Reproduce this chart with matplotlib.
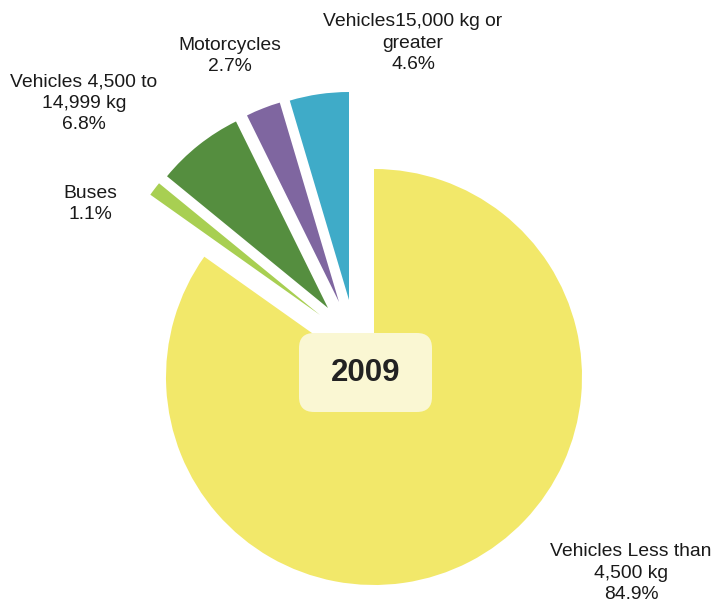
import matplotlib
matplotlib.use("Agg")
import matplotlib.pyplot as plt
from matplotlib.patches import FancyBboxPatch

# ---- data ----
categories = ["Vehicles Less than\n4,500 kg", "Buses", "Vehicles 4,500 to\n14,999 kg",
              "Motorcycles", "Vehicles15,000 kg or\ngreater"]
values = [84.9, 1.1, 6.8, 2.7, 4.6]
pct_labels = ["84.9%", "1.1%", "6.8%", "2.7%", "4.6%"]
year = "2009"

# ---- styles / layout ----
colors = ["#F2E86A", "#A8CF52", "#558E3F", "#7F66A0", "#3FABC8"]
W, H = 713, 605
center = (374, H - 377)
radius = 208
# per-slice displacement (pixels, y up)
offsets = [(0, 0), (-54, 62), (-46, 69), (-35, 75), (-25, 77)]
label_pos = [(631, H - 573), (90, H - 204), (84, H - 103.5), (229.5, H - 56), (413, H - 43)]

plt.rcParams['font.family'] = ['Liberation Sans', 'DejaVu Sans']

fig = plt.figure(figsize=(W / 100, H / 100), dpi=100)
ax = fig.add_axes([0, 0, 1, 1])

wedges, _ = ax.pie(values, colors=colors, startangle=90, counterclock=False,
                   center=center, radius=radius, frame=True,
                   wedgeprops=dict(linewidth=0))
ax.set_xlim(0, W)
ax.set_ylim(0, H)
ax.set_aspect('equal')
ax.axis('off')
for w, (dx, dy) in zip(wedges, offsets):
    w.set_center((center[0] + dx, center[1] + dy))

for cat, pct, (x, y) in zip(categories, pct_labels, label_pos):
    ax.text(x, y, f"{cat}\n{pct}", ha='center', va='center', fontsize=13.9,
            color='#1a1a1a', linespacing=1.34)

box = FancyBboxPatch((299, H - 412), 133, 79,
                     boxstyle="round,pad=0,rounding_size=15",
                     facecolor="#FAF7D3", edgecolor="none", zorder=5)
ax.add_patch(box)
ax.text(365.5, H - 373, year, ha='center', va='center', fontsize=22.5,
        fontweight='bold', color='#222222', zorder=6)

fig.savefig("out.png", dpi=100, facecolor='white')
